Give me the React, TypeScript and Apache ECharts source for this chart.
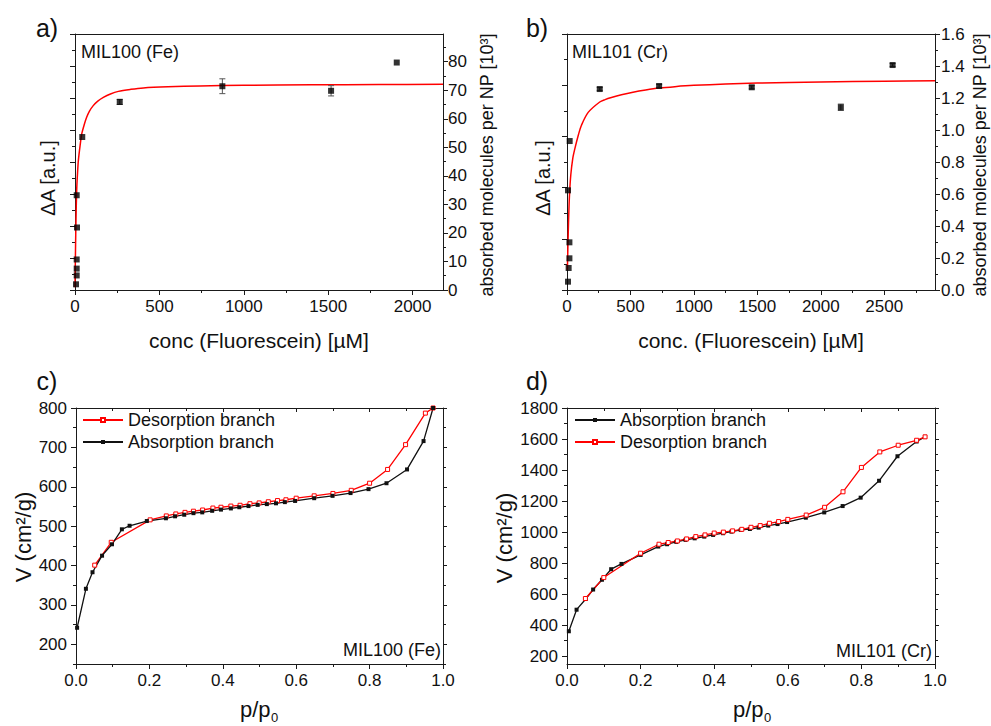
import React, { useEffect, useRef } from 'react';
import * as echarts from 'echarts';

const FONT = '"Liberation Sans", Arial, Helvetica, sans-serif';
const AX = '#1a1a1a';
const RED = '#ff0000';

// ---------- Panel a: MIL100 (Fe) ----------
const concA = [6, 10, 10, 10, 12, 10, 43, 265, 873, 1517, 1906];
const molA = [2.0, 5.1, 7.5, 10.7, 21.9, 33.2, 53.6, 65.9, 71.4, 69.8, 79.7];
const errA = [0, 0, 0, 0, 0, 0, 0, 0.9, 2.6, 1.8, 0];
const fitConcA = [0, 3, 6, 10, 15, 20, 30, 40, 55, 69, 85, 108, 135, 168, 210, 257, 330, 405, 550, 740, 1000, 1400, 1800, 2180];
const fitA = [1, 14, 25, 35, 41, 45.4, 50.5, 54.7, 58, 60.5, 62.6, 64.6, 66.2, 67.5, 68.7, 69.6, 70.3, 70.8, 71.2, 71.5, 71.7, 71.9, 72.0, 72.1];
const xTicksA = [0, 500, 1000, 1500, 2000];
const xMinorA = [250, 750, 1250, 1750];
const yTicksA = [0, 10, 20, 30, 40, 50, 60, 70, 80];
const yMinorA = [5, 15, 25, 35, 45, 55, 65, 75, 85];

// ---------- Panel b: MIL101 (Cr) ----------
const concB = [8, 13, 19, 19, 8, 21, 258, 726, 1456, 2158, 2566];
const molB = [0.052, 0.1375, 0.198, 0.298, 0.623, 0.931, 1.256, 1.275, 1.267, 1.142, 1.406];
const errB = [0, 0, 0, 0, 0, 0, 0.01, 0.01, 0.01, 0.02, 0.01];
const fitConcB = [3, 8, 13, 20, 30, 45, 61, 90, 114, 167, 258, 300, 350, 429, 520, 620, 726, 850, 1000, 1250, 1500, 2000, 2500, 2900];
const fitB = [0.125, 0.3, 0.45, 0.6, 0.72, 0.82, 0.88, 0.97, 1.03, 1.11, 1.175, 1.19, 1.203, 1.22, 1.236, 1.25, 1.262, 1.271, 1.279, 1.287, 1.293, 1.3, 1.305, 1.308];
const xTicksB = [0, 500, 1000, 1500, 2000, 2500];
const xMinorB = [250, 750, 1250, 1750, 2250, 2750];
const yTicksB = [0, 0.2, 0.4, 0.6, 0.8, 1.0, 1.2, 1.4, 1.6];
const yMinorB = [0.1, 0.3, 0.5, 0.7, 0.9, 1.1, 1.3, 1.5];

// ---------- Panel c: MIL100 (Fe) isotherm ----------
const pAbsC = [0.003, 0.027, 0.045, 0.071, 0.098, 0.125, 0.146, 0.193, 0.245, 0.27, 0.295, 0.32, 0.344, 0.371, 0.395, 0.422, 0.445, 0.47, 0.495, 0.52, 0.545, 0.569, 0.597, 0.649, 0.699, 0.748, 0.797, 0.846, 0.902, 0.947, 0.973];
const vAbsC = [242, 341, 383, 425, 454, 492, 501, 513, 520, 525, 529, 533, 535, 539, 542, 545, 548, 551, 554, 556, 558, 561, 564, 571, 577, 584, 594, 609, 644, 716, 800];
const pDesC = [0.973, 0.952, 0.898, 0.849, 0.8, 0.75, 0.7, 0.649, 0.6, 0.572, 0.549, 0.524, 0.499, 0.474, 0.447, 0.422, 0.395, 0.373, 0.345, 0.32, 0.297, 0.272, 0.246, 0.202, 0.096, 0.051];
const vDesC = [800, 787, 707, 644, 609, 591, 583, 577, 571, 567, 565, 562, 559, 557, 553, 551, 548, 546, 541, 538, 535, 531, 526, 516, 459, 401];

// ---------- Panel d: MIL101 (Cr) isotherm ----------
const pAbsD = [0.005, 0.026, 0.051, 0.071, 0.095, 0.12, 0.148, 0.2, 0.248, 0.272, 0.297, 0.322, 0.347, 0.373, 0.397, 0.424, 0.447, 0.472, 0.497, 0.521, 0.547, 0.572, 0.598, 0.649, 0.699, 0.749, 0.798, 0.848, 0.898, 0.95, 0.973];
const vAbsD = [361, 500, 569, 630, 693, 761, 795, 853, 907, 922, 937, 950, 960, 971, 982, 993, 1003, 1014, 1020, 1029, 1042, 1052, 1065, 1093, 1127, 1168, 1222, 1331, 1489, 1584, 1614];
const pDesD = [0.973, 0.95, 0.9, 0.85, 0.8, 0.75, 0.7, 0.65, 0.6, 0.575, 0.55, 0.525, 0.5, 0.475, 0.45, 0.425, 0.4, 0.375, 0.35, 0.325, 0.3, 0.275, 0.25, 0.2, 0.1, 0.05];
const vDesD = [1614, 1592, 1560, 1517, 1417, 1260, 1160, 1110, 1082, 1068, 1057, 1042, 1031, 1018, 1008, 1000, 994, 982, 971, 956, 943, 933, 922, 864, 707, 572];

const xTicksP = [0, 0.2, 0.4, 0.6, 0.8, 1.0];
const xMinorP = [0.1, 0.3, 0.5, 0.7, 0.9];
const yTicksC = [200, 300, 400, 500, 600, 700, 800];
const yMinorC = [150, 250, 350, 450, 550, 650, 750];
const yTicksD = [200, 400, 600, 800, 1000, 1200, 1400, 1600, 1800];
const yMinorD = [300, 500, 700, 900, 1100, 1300, 1500, 1700];

const zip = (a: number[], b: number[]) => a.map((v, i) => [v, b[i]]);
const range = (a: number, b: number, s: number) => {
  const out: number[] = [];
  for (let i = 0; a + i * s <= b + 1e-9; i++) out.push(+(a + i * s).toFixed(6));
  return out;
};

type AxisOpts = {
  grid: number; pos: string; min: number; max: number;
  ticks?: number[]; len?: number; inside?: boolean; line?: boolean;
  labels?: number[]; fmt?: (v: number) => string; margin?: number;
};
function axis(o: AxisOpts) {
  const hasTicks = !!(o.ticks && o.ticks.length);
  const a: any = {
    type: 'value', gridIndex: o.grid, position: o.pos, min: o.min, max: o.max,
    axisLine: { show: !!o.line, onZero: false, lineStyle: { color: AX, width: 1 } },
    axisTick: { show: hasTicks, length: o.len ?? 5, inside: !!o.inside, lineStyle: { color: AX, width: 1 } },
    axisLabel: { show: false },
    splitLine: { show: false }, minorTick: { show: false }, splitArea: { show: false },
  };
  if (hasTicks) a.axisTick.customValues = o.ticks;
  if (o.labels) {
    a.axisLabel = {
      show: true, customValues: o.labels,
      formatter: (v: number) => (o.fmt ? o.fmt(+v) : String(v)),
      margin: o.margin ?? 8, color: '#111', fontSize: 17, fontFamily: FONT,
      hideOverlap: false, showMinLabel: true, showMaxLabel: true,
    };
  }
  return a;
}

function txt(text: string, x: number, y: number, size: number, align = 'center', rot = 0) {
  return {
    type: 'text', x, y, rotation: rot, silent: true,
    style: {
      text, x: 0, y: 0, fill: '#111', fontSize: size, fontFamily: FONT,
      textAlign: align, align, textVerticalAlign: 'middle', verticalAlign: 'middle',
    },
  };
}

function errBars(xs: number[], ys: number[], es: number[], xi: number, yi: number) {
  const data = xs.map((x, i) => [x, ys[i] - es[i], ys[i] + es[i]]).filter((_, i) => es[i] > 0);
  return {
    type: 'custom', xAxisIndex: xi, yAxisIndex: yi, data, z: 3, silent: true,
    encode: { x: 0, y: [1, 2] },
    renderItem: (_p: any, api: any) => {
      const x = api.value(0);
      const lo = api.coord([x, api.value(1)]);
      const hi = api.coord([x, api.value(2)]);
      const w = 3;
      const st = { stroke: '#555', lineWidth: 1 };
      return {
        type: 'group',
        children: [
          { type: 'line', shape: { x1: lo[0], y1: lo[1], x2: hi[0], y2: hi[1] }, style: st },
          { type: 'line', shape: { x1: lo[0] - w, y1: lo[1], x2: lo[0] + w, y2: lo[1] }, style: st },
          { type: 'line', shape: { x1: hi[0] - w, y1: hi[1], x2: hi[0] + w, y2: hi[1] }, style: st },
        ],
      };
    },
  };
}

function buildOption() {
  const grids = [
    { left: 75, top: 34, width: 368, height: 256 },
    { left: 567, top: 34, width: 368, height: 256 },
    { left: 76, top: 408, width: 367, height: 256 },
    { left: 567, top: 408, width: 368, height: 256 },
  ];
  const xAxes: any[] = [];
  const yAxes: any[] = [];
  const addX = (o: AxisOpts) => { xAxes.push(axis(o)); return xAxes.length - 1; };
  const addY = (o: AxisOpts) => { yAxes.push(axis(o)); return yAxes.length - 1; };
  const f1 = (v: number) => v.toFixed(1);

  // Panel a axes
  const xa = addX({ grid: 0, pos: 'bottom', min: 0, max: 2180, ticks: xTicksA, len: 5, line: true, labels: xTicksA, margin: 8 });
  addX({ grid: 0, pos: 'bottom', min: 0, max: 2180, ticks: xMinorA, len: 3 });
  addX({ grid: 0, pos: 'top', min: 0, max: 2180, line: true });
  addY({ grid: 0, pos: 'left', min: 0, max: 8, ticks: range(0, 8, 1), len: 5, line: true });
  addY({ grid: 0, pos: 'left', min: 0, max: 8, ticks: range(0.5, 7.5, 1), len: 3 });
  const ya = addY({ grid: 0, pos: 'right', min: 0, max: 89.7, ticks: yTicksA, len: 5, line: true, labels: yTicksA, margin: 5 });
  addY({ grid: 0, pos: 'right', min: 0, max: 89.7, ticks: yMinorA, len: 3 });

  // Panel b axes
  const xb = addX({ grid: 1, pos: 'bottom', min: 0, max: 2900, ticks: xTicksB, len: 5, line: true, labels: xTicksB, margin: 8 });
  addX({ grid: 1, pos: 'bottom', min: 0, max: 2900, ticks: xMinorB, len: 3 });
  addX({ grid: 1, pos: 'top', min: 0, max: 2900, line: true });
  addY({ grid: 1, pos: 'left', min: 0, max: 5, ticks: range(0, 5, 1), len: 5, line: true });
  addY({ grid: 1, pos: 'left', min: 0, max: 5, ticks: range(0.5, 4.5, 1), len: 3 });
  const yb = addY({ grid: 1, pos: 'right', min: 0, max: 1.6, ticks: yTicksB, len: 5, line: true, labels: yTicksB, fmt: f1, margin: 6 });
  addY({ grid: 1, pos: 'right', min: 0, max: 1.6, ticks: yMinorB, len: 3 });

  // Panel c axes
  const xc = addX({ grid: 2, pos: 'bottom', min: 0, max: 1, ticks: xTicksP, len: 5, line: true, labels: xTicksP, fmt: f1, margin: 8 });
  addX({ grid: 2, pos: 'bottom', min: 0, max: 1, ticks: xMinorP, len: 3 });
  addX({ grid: 2, pos: 'top', min: 0, max: 1, ticks: xTicksP, len: 4, inside: true, line: true });
  addX({ grid: 2, pos: 'top', min: 0, max: 1, ticks: xMinorP, len: 3, inside: true });
  const yc = addY({ grid: 2, pos: 'left', min: 150, max: 800, ticks: yTicksC, len: 5, line: true, labels: yTicksC, margin: 9 });
  addY({ grid: 2, pos: 'left', min: 150, max: 800, ticks: yMinorC, len: 3 });
  addY({ grid: 2, pos: 'right', min: 150, max: 800, ticks: yTicksC, len: 4, line: true });
  addY({ grid: 2, pos: 'right', min: 150, max: 800, ticks: yMinorC, len: 3 });

  // Panel d axes
  const xd = addX({ grid: 3, pos: 'bottom', min: 0, max: 1, ticks: xTicksP, len: 5, line: true, labels: xTicksP, fmt: f1, margin: 8 });
  addX({ grid: 3, pos: 'bottom', min: 0, max: 1, ticks: xMinorP, len: 3 });
  addX({ grid: 3, pos: 'top', min: 0, max: 1, ticks: xTicksP, len: 4, inside: true, line: true });
  addX({ grid: 3, pos: 'top', min: 0, max: 1, ticks: xMinorP, len: 3, inside: true });
  const yd = addY({ grid: 3, pos: 'left', min: 150, max: 1800, ticks: yTicksD, len: 5, line: true, labels: yTicksD, margin: 9 });
  addY({ grid: 3, pos: 'left', min: 150, max: 1800, ticks: yMinorD, len: 3 });
  addY({ grid: 3, pos: 'right', min: 150, max: 1800, ticks: yTicksD, len: 4, line: true });
  addY({ grid: 3, pos: 'right', min: 150, max: 1800, ticks: yMinorD, len: 3 });

  const absStyle = {
    type: 'line', symbol: 'rect', symbolSize: 4, showSymbol: true,
    lineStyle: { color: '#111', width: 1.3 },
    itemStyle: { color: '#111', borderWidth: 0 },
  };
  const desStyle = {
    type: 'line', symbol: 'rect', symbolSize: 4, showSymbol: true,
    lineStyle: { color: RED, width: 1.3 },
    itemStyle: { color: '#fff', borderColor: RED, borderWidth: 1 },
  };
  const fitStyle = {
    type: 'line', smooth: 0.3, showSymbol: false, symbol: 'none',
    lineStyle: { color: RED, width: 1.5 }, z: 2,
  };

  const series: any[] = [
    // a
    errBars(concA, molA, errA, xa, ya),
    { ...fitStyle, name: 'fitA', xAxisIndex: xa, yAxisIndex: ya, data: zip(fitConcA, fitA) },
    { type: 'scatter', name: 'dataA', xAxisIndex: xa, yAxisIndex: ya, data: zip(concA, molA), symbol: 'rect', symbolSize: 6, itemStyle: { color: '#000' }, z: 4 },
    // b
    errBars(concB, molB, errB, xb, yb),
    { ...fitStyle, name: 'fitB', xAxisIndex: xb, yAxisIndex: yb, data: zip(fitConcB, fitB) },
    { type: 'scatter', name: 'dataB', xAxisIndex: xb, yAxisIndex: yb, data: zip(concB, molB), symbol: 'rect', symbolSize: 6, itemStyle: { color: '#000' }, z: 4 },
    // c
    { ...desStyle, name: 'Desorption branch', xAxisIndex: xc, yAxisIndex: yc, data: zip(pDesC, vDesC) },
    { ...absStyle, name: 'Absorption branch', xAxisIndex: xc, yAxisIndex: yc, data: zip(pAbsC, vAbsC) },
    // d
    { ...absStyle, name: 'Absorption branch', xAxisIndex: xd, yAxisIndex: yd, data: zip(pAbsD, vAbsD) },
    { ...desStyle, name: 'Desorption branch', xAxisIndex: xd, yAxisIndex: yd, data: zip(pDesD, vDesD) },
  ];

  const legendBase = {
    orient: 'vertical', itemWidth: 40, itemHeight: 5, itemGap: 4, padding: 0,
    selectedMode: false,
    textStyle: { fontSize: 18, fontFamily: FONT, color: '#111' },
  };

  const graphic = [
    txt('a)', 47, 28, 25),
    txt('b)', 537, 28, 25),
    txt('c)', 47, 381, 25),
    txt('d)', 537, 381, 25),
    txt('MIL100 (Fe)', 81, 52, 18, 'left'),
    txt('MIL101 (Cr)', 572, 52, 18, 'left'),
    txt('MIL100 (Fe)', 441, 650, 18, 'right'),
    txt('MIL101 (Cr)', 932, 651, 18, 'right'),
    txt('conc (Fluorescein) [µM]', 259, 340, 21),
    txt('conc. (Fluorescein) [µM]', 751, 340, 21),
    txt('ΔA [a.u.]', 48, 178, 20, 'center', Math.PI / 2),
    txt('ΔA [a.u.]', 543, 178, 20, 'center', Math.PI / 2),
    txt('absorbed molecules per NP [10³]', 487, 165, 18, 'center', Math.PI / 2),
    txt('absorbed molecules per NP [10³]', 980, 165, 18, 'center', Math.PI / 2),
    txt('V (cm²/g)', 23, 537, 22, 'center', Math.PI / 2),
    txt('V (cm²/g)', 504, 538, 22, 'center', Math.PI / 2),
    txt('p/p', 240, 709, 22, 'left'),
    txt('0', 271, 717, 13, 'left'),
    txt('p/p', 733, 709, 22, 'left'),
    txt('0', 764, 717, 13, 'left'),
  ];

  return {
    animation: false,
    backgroundColor: '#ffffff',
    textStyle: { fontFamily: FONT },
    grid: grids.map((g) => ({ ...g, containLabel: false, show: false })),
    xAxis: xAxes,
    yAxis: yAxes,
    legend: [
      { ...legendBase, left: 82, top: 411, data: ['Desorption branch', 'Absorption branch'] },
      { ...legendBase, left: 574, top: 411, data: ['Absorption branch', 'Desorption branch'] },
    ],
    series,
    graphic,
  };
}

export default function App() {
  const ref = useRef<HTMLDivElement>(null);
  useEffect(() => {
    if (!ref.current) return;
    const chart = echarts.init(ref.current, null, { renderer: 'svg' });
    chart.setOption(buildOption() as any);
    return () => chart.dispose();
  }, []);
  return (
    <div
      ref={ref}
      style={{ position: 'fixed', left: 0, top: 0, width: 991, height: 726, background: '#fff' }}
    />
  );
}
